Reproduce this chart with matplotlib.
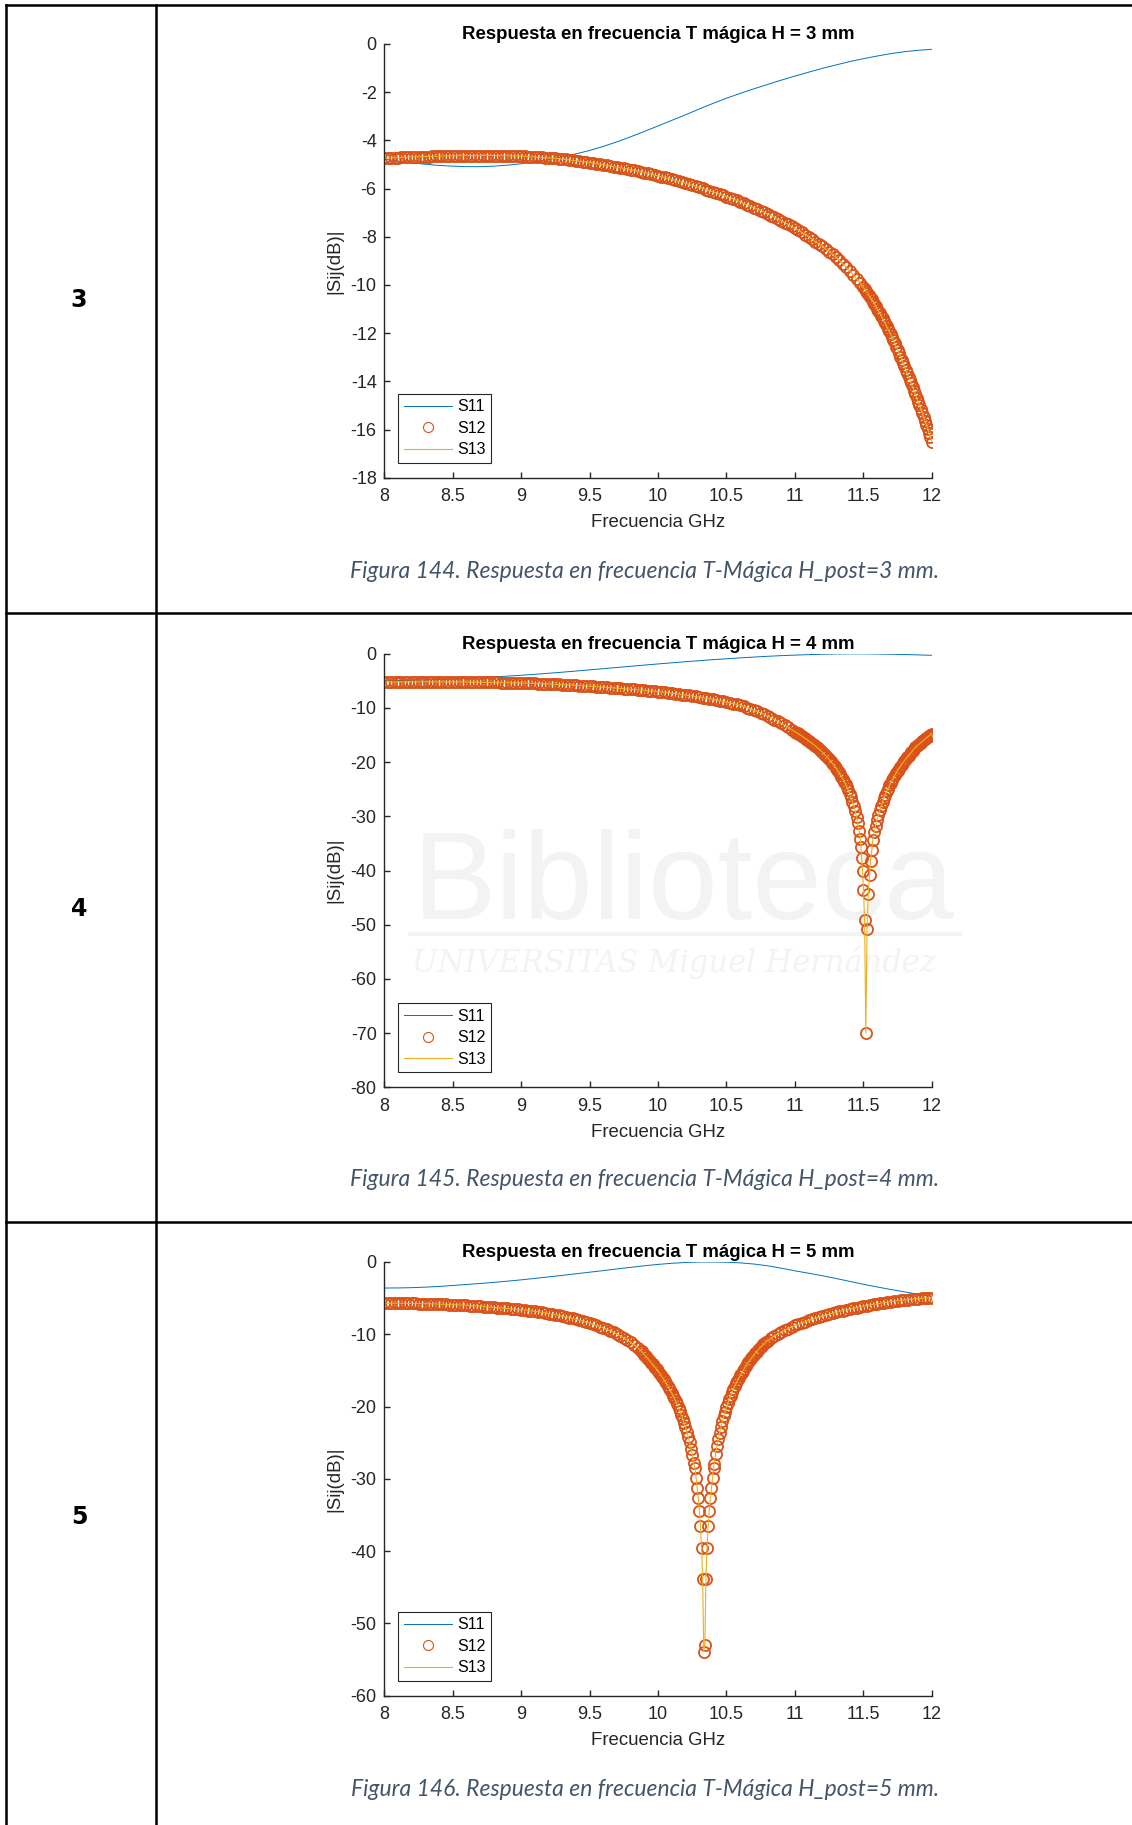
import numpy as np
import matplotlib
matplotlib.use("Agg")
import matplotlib.pyplot as plt

plt.rcParams["font.family"] = ["Liberation Sans", "DejaVu Sans"]
plt.rcParams["axes.unicode_minus"] = False

# ---------------------------------------------------------------- data
h_post = [3, 4, 5]
figure_numbers = [144, 145, 146]
y_limits = [(-18, 0), (-80, 0), (-60, 0)]
y_ticks = [list(range(-18, 1, 2)), list(range(-80, 1, 10)), list(range(-60, 1, 10))]
x_ticks = [8, 8.5, 9, 9.5, 10, 10.5, 11, 11.5, 12]
x_tick_labels = ["8", "8.5", "9", "9.5", "10", "10.5", "11", "11.5", "12"]
legend_labels = ["S11", "S12", "S13"]


def grid(start, stop, step):
    n = int(round((stop - start) / step)) + 1
    return np.linspace(start, stop, n)


# S11, 8..12 GHz every 0.1 GHz
f_s11 = grid(8.0, 12.0, 0.1)
s11_h3 = [-4.78, -4.86, -4.93, -4.99, -5.04, -5.07, -5.09, -5.09, -5.07, -5.03,
          -4.97, -4.89, -4.80, -4.68, -4.56, -4.42, -4.25, -4.06, -3.85, -3.63,
          -3.40, -3.17, -2.94, -2.70, -2.47, -2.25, -2.05, -1.86, -1.68, -1.50,
          -1.33, -1.17, -1.01, -0.87, -0.73, -0.61, -0.50, -0.40, -0.32, -0.26,
          -0.22]
s11_h4 = [-5.00, -4.96, -4.90, -4.83, -4.75, -4.65, -4.54, -4.42, -4.29, -4.14,
          -3.98, -3.80, -3.61, -3.41, -3.20, -2.98, -2.76, -2.54, -2.32, -2.10,
          -1.89, -1.68, -1.48, -1.29, -1.10, -0.93, -0.77, -0.62, -0.48, -0.36,
          -0.26, -0.17, -0.10, -0.05, -0.03, -0.03, -0.06, -0.10, -0.15, -0.22,
          -0.30]
s11_h5 = [-3.60, -3.59, -3.55, -3.48, -3.38, -3.25, -3.11, -2.97, -2.82, -2.65,
          -2.47, -2.27, -2.06, -1.85, -1.63, -1.41, -1.19, -0.96, -0.74, -0.52,
          -0.33, -0.18, -0.07, -0.01, 0.00, -0.03, -0.12, -0.28, -0.52, -0.85,
          -1.22, -1.55, -1.90, -2.28, -2.68, -3.08, -3.45, -3.80, -4.13, -4.45,
          -4.75]

# S12 (S13 lies on top of it), H = 3 mm
f12_h3 = np.concatenate([grid(8.0, 11.475, 0.025), grid(11.50, 12.0, 0.01)])
s12_h3 = [
    -4.74, -4.73, -4.73, -4.72, -4.72, -4.71, -4.70, -4.70, -4.69, -4.69,
    -4.68, -4.68, -4.67, -4.67, -4.66, -4.66, -4.66, -4.65, -4.65, -4.64,
    -4.64, -4.64, -4.64, -4.64, -4.63, -4.63, -4.63, -4.63, -4.63, -4.63,
    -4.63, -4.63, -4.63, -4.63, -4.64, -4.64, -4.64, -4.65, -4.65, -4.66,
    -4.66, -4.66, -4.67, -4.68, -4.69, -4.70, -4.71, -4.72, -4.73, -4.74,
    -4.75, -4.76, -4.78, -4.79, -4.81, -4.83, -4.85, -4.86, -4.88, -4.90,
    -4.92, -4.94, -4.96, -4.99, -5.01, -5.04, -5.06, -5.09, -5.11, -5.14,
    -5.16, -5.19, -5.22, -5.25, -5.28, -5.31, -5.34, -5.37, -5.40, -5.44,
    -5.47, -5.51, -5.54, -5.58, -5.62, -5.66, -5.70, -5.74, -5.78, -5.82,
    -5.86, -5.90, -5.95, -5.99, -6.04, -6.09, -6.13, -6.18, -6.23, -6.28,
    -6.33, -6.38, -6.43, -6.49, -6.55, -6.61, -6.67, -6.73, -6.79, -6.85,
    -6.92, -6.98, -7.05, -7.12, -7.19, -7.26, -7.33, -7.41, -7.49, -7.57,
    -7.65, -7.73, -7.82, -7.91, -8.00, -8.10, -8.20, -8.30, -8.40, -8.51,
    -8.62, -8.73, -8.85, -8.98, -9.12, -9.27, -9.42, -9.58, -9.74, -9.91,
    -10.10, -10.18, -10.26, -10.34, -10.43, -10.51, -10.60, -10.69, -10.79, -10.88,
    -10.98, -11.08, -11.18, -11.28, -11.39, -11.49, -11.60, -11.71, -11.82, -11.93,
    -12.05, -12.17, -12.30, -12.43, -12.56, -12.70, -12.83, -12.97, -13.11, -13.24,
    -13.38, -13.52, -13.66, -13.80, -13.95, -14.09, -14.24, -14.39, -14.54, -14.69,
    -14.84, -15.00, -15.15, -15.31, -15.47, -15.64, -15.80, -15.97, -16.14, -16.32,
    -16.50]

# H = 4 mm, null near 11.52 GHz
f_dip_h4 = [11.478, 11.483, 11.488, 11.494, 11.501, 11.509, 11.518,
            11.527, 11.536, 11.545, 11.553, 11.561, 11.569]
s12_dip_h4 = [-34.2, -35.7, -37.7, -40.1, -43.6, -49.2, -70.0,
              -50.7, -44.4, -40.8, -38.2, -36.2, -34.4]
f12_h4 = np.concatenate([grid(8.0, 10.975, 0.025), grid(11.0, 11.47, 0.01),
                         f_dip_h4, grid(11.58, 12.0, 0.01)])
s12_h4 = [
    -5.25, -5.25, -5.24, -5.24, -5.23, -5.23, -5.22, -5.22, -5.21, -5.21,
    -5.20, -5.20, -5.20, -5.20, -5.20, -5.20, -5.20, -5.20, -5.20, -5.20,
    -5.20, -5.21, -5.21, -5.22, -5.23, -5.24, -5.25, -5.25, -5.26, -5.27,
    -5.28, -5.29, -5.30, -5.31, -5.32, -5.33, -5.35, -5.36, -5.37, -5.39,
    -5.40, -5.42, -5.44, -5.46, -5.48, -5.51, -5.54, -5.56, -5.59, -5.62,
    -5.65, -5.68, -5.71, -5.74, -5.78, -5.81, -5.85, -5.88, -5.92, -5.96,
    -6.00, -6.04, -6.08, -6.12, -6.17, -6.21, -6.26, -6.30, -6.35, -6.40,
    -6.45, -6.50, -6.55, -6.60, -6.65, -6.71, -6.76, -6.82, -6.88, -6.94,
    -7.00, -7.07, -7.14, -7.21, -7.29, -7.37, -7.45, -7.54, -7.62, -7.71,
    -7.80, -7.89, -7.99, -8.09, -8.19, -8.30, -8.41, -8.52, -8.64, -8.77,
    -8.90, -9.04, -9.19, -9.36, -9.54, -9.73, -9.94, -10.17, -10.41, -10.66,
    -10.93, -11.21, -11.51, -11.82, -12.15, -12.49, -12.84, -13.21, -13.60, -13.99,
    -14.40, -14.55, -14.70, -14.86, -15.02, -15.18, -15.35, -15.52, -15.70, -15.88,
    -16.06, -16.25, -16.44, -16.63, -16.84, -17.04, -17.26, -17.48, -17.70, -17.93,
    -18.17, -18.42, -18.67, -18.94, -19.21, -19.49, -19.79, -20.09, -20.41, -20.74,
    -21.09, -21.45, -21.84, -22.24, -22.66, -23.11, -23.58, -24.08, -24.63, -25.21,
    -25.84, -26.52, -27.27, -28.10, -29.03, -30.09, -31.32, -32.79,
] + s12_dip_h4 + [
    -32.9, -31.7, -30.7, -29.8, -28.9, -28.1, -27.3, -26.6, -26.0, -25.4,
    -24.9, -24.3, -23.9, -23.35, -22.85, -22.43, -21.98, -21.55, -21.18, -20.83,
    -20.45, -20.07, -19.76, -19.40, -19.06, -18.78, -18.45, -18.14, -17.88, -17.58,
    -17.29, -17.05, -16.82, -16.60, -16.38, -16.16, -15.96, -15.75, -15.55, -15.36,
    -15.17, -14.98, -14.80]

# H = 5 mm, null near 10.34 GHz
f_dip_h5 = [10.270, 10.278, 10.286, 10.294, 10.302, 10.310, 10.318, 10.326, 10.334,
            10.342, 10.350, 10.358, 10.366, 10.374, 10.382, 10.390, 10.398, 10.406]
s12_dip_h5 = [-28.5, -29.9, -31.3, -32.7, -34.4, -36.5, -39.5, -43.9, -53.9,
              -53.0, -43.8, -39.5, -36.5, -34.4, -32.7, -31.3, -29.9, -28.5]
f12_h5 = np.concatenate([grid(8.0, 9.875, 0.025), grid(9.88, 10.26, 0.01), f_dip_h5,
                         grid(10.41, 10.80, 0.01), grid(10.825, 12.0, 0.025)])
s12_h5 = [
    -5.70, -5.70, -5.70, -5.71, -5.71, -5.72, -5.72, -5.73, -5.74, -5.74,
    -5.75, -5.76, -5.77, -5.78, -5.80, -5.81, -5.83, -5.85, -5.87, -5.88,
    -5.90, -5.92, -5.95, -5.97, -6.00, -6.03, -6.06, -6.10, -6.13, -6.16,
    -6.20, -6.23, -6.27, -6.31, -6.35, -6.39, -6.43, -6.47, -6.51, -6.56,
    -6.60, -6.65, -6.71, -6.77, -6.83, -6.90, -6.97, -7.05, -7.13, -7.21,
    -7.30, -7.39, -7.49, -7.59, -7.69, -7.80, -7.92, -8.04, -8.17, -8.31,
    -8.45, -8.60, -8.76, -8.93, -9.11, -9.31, -9.52, -9.74, -9.97, -10.22,
    -10.50, -10.78, -11.10, -11.45, -11.83, -12.25,
    -12.36, -12.58, -12.80, -13.02, -13.24, -13.46, -13.68, -13.91, -14.14, -14.37,
    -14.61, -14.85, -15.10, -15.36, -15.63, -15.90, -16.18, -16.48, -16.78, -17.10,
    -17.43, -17.77, -18.12, -18.49, -18.88, -19.29, -19.71, -20.16, -20.63, -21.13,
    -21.66, -22.23, -22.84, -23.49, -24.20, -24.97, -25.82, -26.76, -27.82,
] + s12_dip_h5 + [
    -27.9, -26.6, -25.5, -24.5, -23.6, -22.8, -22.0, -21.3, -20.7, -20.1,
    -19.5, -19.0, -18.5, -18.0, -17.6, -17.2, -16.8, -16.4, -16.0, -15.7,
    -15.37, -15.05, -14.74, -14.44, -14.15, -13.87, -13.60, -13.34, -13.09, -12.85,
    -12.62, -12.40, -12.19, -11.98, -11.78, -11.59, -11.40, -11.22, -11.05, -10.88,
    -10.56, -10.25, -9.96, -9.69, -9.44, -9.20, -8.98, -8.78, -8.59, -8.41,
    -8.24, -8.08, -7.92, -7.77, -7.62, -7.48, -7.34, -7.21, -7.08, -6.96,
    -6.84, -6.72, -6.61, -6.50, -6.40, -6.30, -6.20, -6.11, -6.02, -5.93,
    -5.85, -5.77, -5.69, -5.62, -5.55, -5.48, -5.42, -5.36, -5.30, -5.25,
    -5.20, -5.15, -5.11, -5.07, -5.03, -5.00, -4.97, -4.94]

# the S13 trace runs exactly through the S12 markers
s13_h3, s13_h4, s13_h5 = s12_h3, s12_h4, s12_h5

s11_all = [s11_h3, s11_h4, s11_h5]
f12_all = [f12_h3, f12_h4, f12_h5]
s12_all = [s12_h3, s12_h4, s12_h5]
s13_all = [s13_h3, s13_h4, s13_h5]

# ---------------------------------------------------------------- layout
W, H = 1132, 1825
fig = plt.figure(figsize=(W / 100, H / 100), dpi=100)

bg = fig.add_axes([0, 0, 1, 1], zorder=-5)
bg.set_xlim(0, W)
bg.set_ylim(H, 0)
bg.axis("off")

# table borders
lw_table = 1.8
bg.plot([6, 6], [5, H], color="black", lw=lw_table)
bg.plot([156, 156], [5, H], color="black", lw=lw_table)
for y in [5, 613, 1222]:
    bg.plot([6, W], [y, y], color="black", lw=lw_table)

# faint library watermark over the middle row
wm = "#F3F3F3"
bg.text(413, 919, "Biblioteca", fontsize=90, color=wm, ha="left", va="baseline")
bg.plot([410, 960], [934, 934], color=wm, lw=3)
bg.text(412, 972, "UNIVERSITAS Miguel Hernández", fontsize=22, color=wm,
        family=["DejaVu Serif"], style="italic", ha="left", va="baseline")

row_y = [300, 909, 1517]
caption_y = [571, 1180, 1789]
axes_top = [44, 653.7, 1262]
ax_left, ax_w, ax_h = 384.3, 547.5, 433.7

dark = "#262626"
for i in range(3):
    bg.text(79, row_y[i], str(h_post[i]), fontsize=17, fontweight="bold",
            family=["DejaVu Sans"], ha="center", va="center")
    bg.text(645, caption_y[i],
            f"Figura {figure_numbers[i]}. Respuesta en frecuencia T-Mágica H_post={h_post[i]} mm.",
            fontsize=16.5, style="italic", color="#44546A", family=["Lato", "DejaVu Sans"],
            ha="center", va="center")

    ax = fig.add_axes([ax_left / W, 1 - (axes_top[i] + ax_h) / H, ax_w / W, ax_h / H])
    ax.set_facecolor("none")
    ax.plot(f_s11, s11_all[i], color="#0072BD", lw=0.7, label=legend_labels[0])
    ax.plot(f12_all[i], s12_all[i], ls="none", marker="o", ms=8, mfc="none",
            mec="#D95319", mew=1.3, label=legend_labels[1])
    ax.plot(f12_all[i], s13_all[i], color="#EDB120", lw=0.8, label=legend_labels[2])

    ax.set_xlim(8, 12)
    ax.set_ylim(*y_limits[i])
    ax.set_xticks(x_ticks)
    ax.set_xticklabels(x_tick_labels)
    ax.set_yticks(y_ticks[i])
    ax.set_yticklabels([str(t) for t in y_ticks[i]])
    for side in ["top", "right"]:
        ax.spines[side].set_visible(False)
    for side in ["left", "bottom"]:
        ax.spines[side].set_color(dark)
        ax.spines[side].set_linewidth(1.0)
    ax.tick_params(direction="in", length=4, width=1.0, colors=dark, labelsize=13)
    ax.tick_params(axis="x", pad=7.5)
    ax.tick_params(axis="y", pad=5.5)

    ax.set_title(f"Respuesta en frecuencia T mágica H = {h_post[i]} mm",
                 fontsize=13.4, fontweight="bold", color="black", pad=3.6)
    ax.set_xlabel("Frecuencia GHz", fontsize=13.4, color=dark, labelpad=6.5)
    ax.set_ylabel("|Sij(dB)|", fontsize=13.4, color=dark, labelpad=5)

    leg = ax.legend(loc="lower left", bbox_to_anchor=(14 / ax_w, 15 / ax_h),
                    borderaxespad=0, fancybox=False, edgecolor=dark, framealpha=1,
                    fontsize=11.5, handlelength=3.0, handletextpad=0.35,
                    labelspacing=0.4, borderpad=0.35, numpoints=1)
    leg.get_frame().set_linewidth(0.8)
    leg.legend_handles[1].set_markeredgewidth(0.8)
    leg.legend_handles[1].set_markersize(7.2)

fig.savefig("out.png", dpi=100)
